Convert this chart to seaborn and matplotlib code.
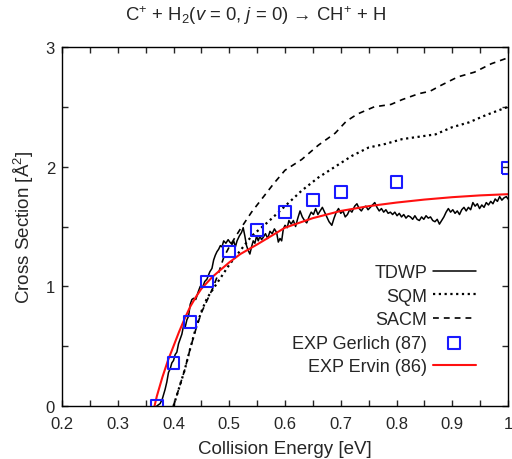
import numpy as np
import pandas as pd
import matplotlib
matplotlib.use("Agg")
import matplotlib.pyplot as plt
import seaborn as sns
from matplotlib.ticker import MultipleLocator

# ---------------- data ----------------
tdwp_x = [0.370,0.376,0.380,0.385,0.388,0.391,0.394,0.397,0.400,0.403,0.406,0.409,0.412,0.415,0.418,0.421,0.424,0.427,0.430,0.433,
          0.436,0.440,0.444,0.448,0.452,0.456,0.460,0.465,0.469,0.472,0.475,0.478,0.481,0.484,0.487,0.490,0.494,0.498,0.501,0.505,
          0.508,0.511,0.514,0.518,0.522,0.525,0.528,0.531,0.534,0.537,0.540,0.543,0.546,0.549,0.552,0.555,0.558,0.561,0.565,0.569,
          0.573,0.577,0.581,0.585,0.588,0.591,0.594,0.597,0.600,0.604,0.607,0.611,0.615,0.619,0.623,0.627,0.631,0.635,0.639,0.643,
          0.647,0.651,0.655,0.659,0.663,0.667,0.671,0.675,0.679,0.684,0.688,0.692,0.696,0.700,0.704,0.708,0.712,0.716,0.720,0.725,
          0.729,0.733,0.737,0.741,0.745,0.749,0.753,0.757,0.761,0.765,0.769,0.773,0.777,0.781,0.785,0.789,0.793,0.797,0.801,0.805,
          0.809,0.813,0.817,0.821,0.825,0.829,0.833,0.837,0.841,0.845,0.849,0.853,0.857,0.861,0.865,0.869,0.873,0.877,0.881,0.885,
          0.889,0.893,0.897,0.901,0.905,0.909,0.913,0.917,0.921,0.925,0.929,0.933,0.937,0.941,0.945,0.949,0.953,0.957,0.961,0.965,
          0.969,0.973,0.977,0.981,0.985,0.989,0.993,0.997,1.000]
tdwp_y = [0.00,0.02,0.06,0.14,0.20,0.28,0.31,0.36,0.38,0.43,0.45,0.52,0.56,0.60,0.67,0.66,0.72,0.75,0.85,0.89,
          0.90,0.89,0.95,1.00,0.99,1.04,1.06,1.12,1.15,1.22,1.26,1.29,1.31,1.34,1.33,1.38,1.36,1.39,1.37,1.35,
          1.38,1.33,1.38,1.42,1.45,1.49,1.42,1.34,1.30,1.27,1.33,1.38,1.36,1.42,1.38,1.42,1.39,1.41,1.44,1.40,
          1.46,1.44,1.48,1.45,1.37,1.40,1.38,1.48,1.51,1.49,1.55,1.52,1.55,1.50,1.57,1.63,1.58,1.55,1.53,1.58,
          1.62,1.60,1.65,1.60,1.63,1.66,1.62,1.58,1.54,1.51,1.57,1.62,1.65,1.61,1.63,1.58,1.60,1.64,1.62,1.67,
          1.69,1.65,1.63,1.66,1.67,1.64,1.66,1.68,1.70,1.66,1.63,1.65,1.62,1.64,1.61,1.62,1.60,1.62,1.59,1.61,
          1.58,1.60,1.57,1.59,1.58,1.56,1.59,1.56,1.55,1.58,1.56,1.59,1.57,1.58,1.55,1.54,1.56,1.52,1.55,1.58,
          1.62,1.65,1.62,1.64,1.61,1.63,1.60,1.64,1.66,1.63,1.66,1.64,1.70,1.67,1.69,1.65,1.68,1.66,1.70,1.68,
          1.71,1.69,1.73,1.71,1.75,1.72,1.74,1.75,1.73]

sqm_x = [0.400,0.410,0.420,0.430,0.440,0.450,0.460,0.470,0.480,0.500,0.520,0.540,0.570,0.600,0.630,0.660,0.690,0.720,
         0.750,0.780,0.810,0.840,0.870,0.900,0.930,0.960,1.000]
sqm_y = [0.00,0.15,0.30,0.48,0.65,0.79,0.90,0.97,1.04,1.18,1.30,1.42,1.54,1.67,1.80,1.91,2.00,2.09,
         2.16,2.19,2.23,2.25,2.27,2.33,2.37,2.43,2.50]

sacm_x = [0.400,0.410,0.420,0.430,0.440,0.450,0.460,0.470,0.480,0.490,0.500,0.520,0.540,0.560,0.580,0.600,0.630,0.660,
          0.690,0.710,0.730,0.760,0.790,0.810,0.840,0.860,0.880,0.910,0.940,0.970,1.000]
sacm_y = [0.00,0.15,0.30,0.48,0.64,0.78,0.88,0.98,1.10,1.24,1.33,1.48,1.62,1.74,1.86,1.97,2.06,2.18,
          2.28,2.38,2.44,2.50,2.52,2.56,2.61,2.63,2.68,2.75,2.79,2.86,2.91]

gerlich_x = [0.37,0.40,0.43,0.46,0.50,0.55,0.60,0.65,0.70,0.80,1.00]
gerlich_y = [0.00,0.36,0.70,1.04,1.29,1.47,1.62,1.72,1.79,1.87,1.99]

ervin_x = [0.366,0.370,0.380,0.390,0.400,0.410,0.420,0.430,0.440,0.450,0.460,0.470,0.480,0.490,0.500,0.520,0.550,
           0.600,0.650,0.700,0.750,0.800,0.850,0.900,0.950,1.000]
ervin_y = [0.00,0.08,0.24,0.38,0.50,0.62,0.73,0.83,0.91,0.98,1.03,1.08,1.12,1.16,1.20,1.27,1.35,
           1.49,1.57,1.63,1.67,1.70,1.725,1.745,1.76,1.77]

# ---------------- style ----------------
sns.set_style("ticks")
plt.rcParams['font.family'] = ['Liberation Sans', 'DejaVu Sans']
plt.rcParams['mathtext.fontset'] = 'custom'
plt.rcParams['mathtext.rm'] = 'Liberation Sans'
plt.rcParams['mathtext.it'] = 'Liberation Sans:italic'

fig = plt.figure(figsize=(5.12, 4.6), dpi=100)
ax = fig.add_axes([62/512, 53/460, 446/512, 359/460])

sns.lineplot(x=tdwp_x, y=tdwp_y, ax=ax, color='black', lw=1.1, estimator=None, sort=False, label='TDWP')
sns.lineplot(x=sqm_x, y=sqm_y, ax=ax, color='black', lw=1.6, estimator=None, label='SQM',
             linestyle=(0, (1, 1.6)))
sns.lineplot(x=sacm_x, y=sacm_y, ax=ax, color='black', lw=1.2, estimator=None, label='SACM',
             linestyle=(0, (3.5, 3)))
sns.scatterplot(x=gerlich_x, y=gerlich_y, ax=ax, marker='s', s=70, facecolor='none',
                edgecolor='#1a1aff', linewidth=1.5, label='EXP Gerlich (87)', zorder=5)
sns.lineplot(x=ervin_x, y=ervin_y, ax=ax, color='#ff1010', lw=1.5, estimator=None, label='EXP Ervin (86)')

ax.set_xlim(0.2, 1.0)
ax.set_ylim(0, 3)
ax.xaxis.set_major_locator(MultipleLocator(0.1))
ax.xaxis.set_minor_locator(MultipleLocator(0.05))
ax.yaxis.set_major_locator(MultipleLocator(1))
ax.yaxis.set_minor_locator(MultipleLocator(0.5))
ax.set_xticklabels([f"{v:g}" for v in np.round(ax.get_xticks(), 2)])
ax.tick_params(which='both', direction='in', top=True, right=True, length=4, width=1, labelsize=12)
ax.tick_params(axis='x', pad=7)
ax.tick_params(axis='y', pad=5)
for sp in ax.spines.values():
    sp.set_linewidth(1.0)
    sp.set_color('black')

ax.set_xlabel('Collision Energy [eV]', fontsize=13.5, labelpad=7)
ax.set_ylabel(r'Cross Section [Å$^2$]', fontsize=13.5, labelpad=7)
fig.text(0.5, 0.967, r'C$^{+}$ + H$_2$($v$ = 0, $j$ = 0) → CH$^{+}$ + H', ha='center', va='center', fontsize=13.3)

leg = ax.legend(loc='lower right', bbox_to_anchor=(0.928, 0.086), frameon=False, markerfirst=False,
                fontsize=13, handlelength=2.4, handletextpad=0.3, labelspacing=0.36,
                borderpad=0, borderaxespad=0)

fig.savefig('out.png', dpi=100)
